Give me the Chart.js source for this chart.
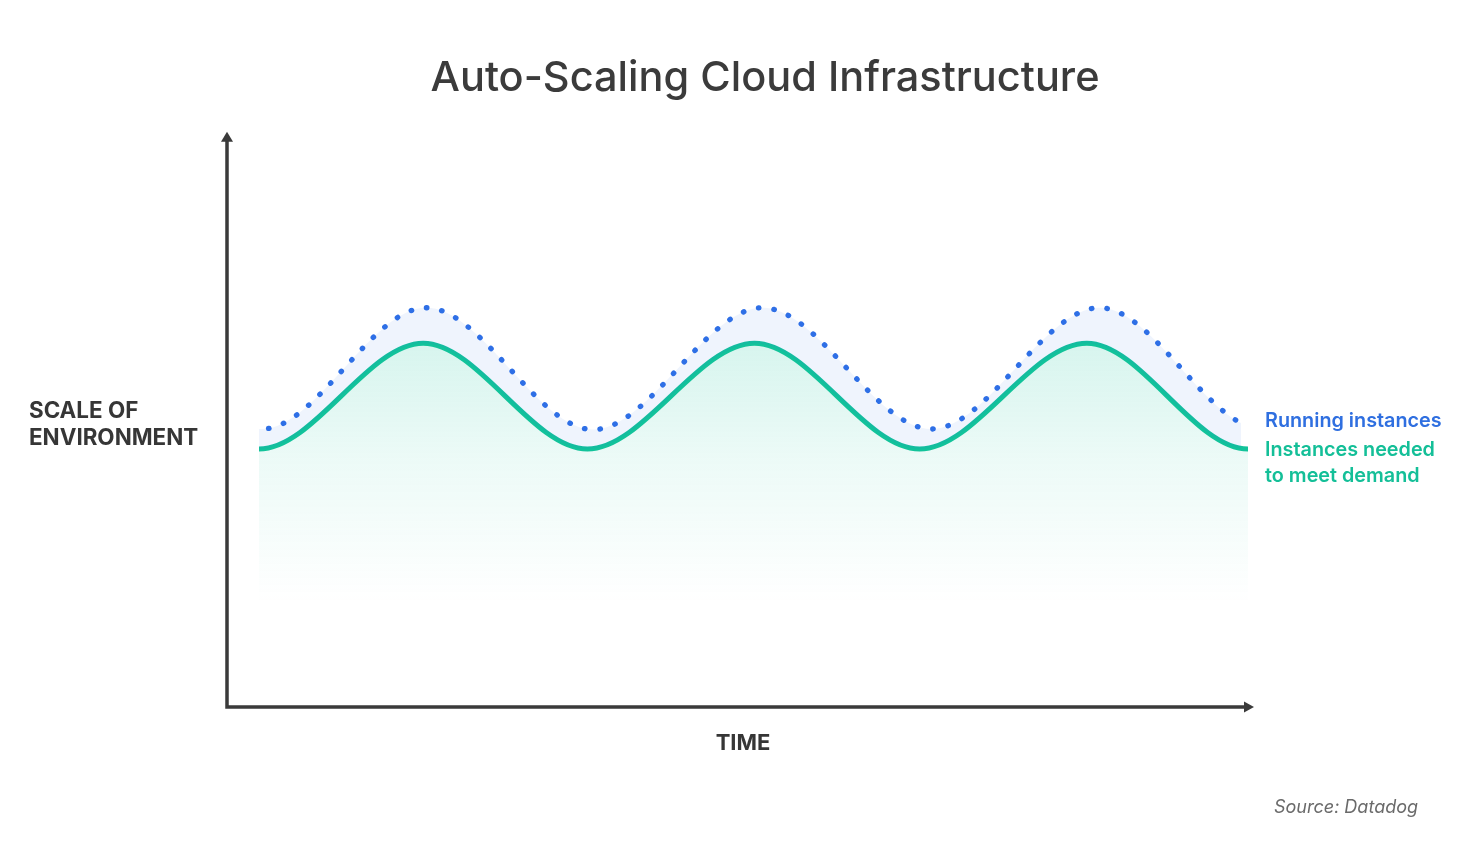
<!DOCTYPE html>
<html><head><meta charset="utf-8">
<script src="https://cdn.jsdelivr.net/npm/chart.js@4.4.1/dist/chart.umd.min.js"></script>
<style>html,body{margin:0;padding:0;background:#fff;}#wrap{width:1464px;height:851px;position:relative;}</style>
</head><body><div id="wrap"><canvas id="c"></canvas></div>
<script>
// ---- texts ----
const chartTitle = 'Auto-Scaling Cloud Infrastructure';
const yAxisLabel = ['SCALE OF', 'ENVIRONMENT'];
const xAxisLabel = 'TIME';
const runningLabel = ['Running instances'];
const neededLabel = ['Instances needed', 'to meet demand'];
const sourceNote = 'Source: Datadog';

// ---- data (time in % of the visible span, scale in % of axis height) ----
const timeRunning = [-16.5, 0.3, 16.9, 33.8, 50.9, 68.0, 85.0, 101.5, 118.4];
const runningInstances = [69.8, 48.6, 69.8, 48.5, 69.8, 48.6, 69.8, 48.6, 69.8];
const timeNeeded = [-16.6, 0, 16.6, 33.2, 50.1, 66.8, 83.7, 100, 116.5];
const neededInstances = [63.6, 45.1, 63.6, 45.1, 63.6, 45.1, 63.6, 45.1, 63.6];
const timeRange = [0, 100];
const scaleRange = [0, 100];

const BLUE = '#2e6fe6', GREEN = '#12c39a', INK = '#3a3a3a';

const decor = {
  id: 'decor',
  afterDraw(chart) {
    const {ctx, chartArea: a} = chart;
    const ax = a.left - 32, ay = a.bottom;
    ctx.save();
    ctx.strokeStyle = INK; ctx.fillStyle = INK;
    ctx.lineWidth = 3.5; ctx.lineCap = 'butt';
    ctx.beginPath();
    ctx.moveTo(ax, ay + 1.75); ctx.lineTo(ax, a.top + 6);
    ctx.moveTo(ax - 1.75, ay); ctx.lineTo(a.right - 3, ay);
    ctx.stroke();
    ctx.beginPath();
    ctx.moveTo(ax, a.top - 3.3); ctx.lineTo(ax - 6, a.top + 6.7); ctx.lineTo(ax + 6, a.top + 6.7);
    ctx.closePath(); ctx.fill();
    const tipX = a.right + 6;
    ctx.beginPath();
    ctx.moveTo(tipX, ay); ctx.lineTo(tipX - 10, ay - 5.5); ctx.lineTo(tipX - 10, ay + 5.5);
    ctx.closePath(); ctx.fill();

    ctx.textBaseline = 'alphabetic';
    // title
    ctx.fillStyle = '#3b3b3b';
    ctx.font = '500 41.5px Inter';
    ctx.textAlign = 'center';
    ctx.fillText(chartTitle, 765, 91);
    // axis titles
    ctx.fillStyle = '#363636';
    ctx.font = 'bold 22.4px Inter';
    ctx.textAlign = 'left';
    ctx.fillText(yAxisLabel[0], 29, 417.5);
    ctx.fillText(yAxisLabel[1], 29, 444.5);
    ctx.font = 'bold 22px Inter';
    ctx.textAlign = 'center';
    ctx.fillText(xAxisLabel, 743, 750);
    // series labels
    ctx.textAlign = 'left';
    ctx.font = '600 19.8px Inter';
    ctx.fillStyle = '#2f6fe0';
    ctx.fillText(runningLabel[0], 1265, 427);
    ctx.fillStyle = '#14bf98';
    ctx.fillText(neededLabel[0], 1265, 455.5);
    ctx.fillText(neededLabel[1], 1265, 482);
    // source
    ctx.font = 'italic 18px Inter';
    ctx.fillStyle = '#6a6a6a';
    ctx.fillText(sourceNote, 1274, 812.5);
    ctx.restore();
  }
};

function greenFill(context) {
  const chart = context.chart;
  const {chartArea, scales} = chart;
  if (!chartArea) return 'rgba(18,195,154,0.1)';
  const top = scales.y.getPixelForValue(Math.max(...neededInstances));
  const g = chart.ctx.createLinearGradient(0, top, 0, top + 260);
  g.addColorStop(0, 'rgba(18,195,154,0.17)');
  g.addColorStop(0.45, 'rgba(18,195,154,0.08)');
  g.addColorStop(1, 'rgba(18,195,154,0)');
  return g;
}

new Chart(document.getElementById('c'), {
  type: 'line',
  data: {
    datasets: [
      {
        label: runningLabel.join(' '),
        data: timeRunning.map((t, i) => ({x: t, y: runningInstances[i]})),
        borderColor: BLUE, borderWidth: 5.3,
        borderDash: [0.5, 15.1], borderDashOffset: 2.5, borderCapStyle: 'round',
        fill: '+1', backgroundColor: 'rgba(46,111,230,0.08)',
        pointRadius: 0, cubicInterpolationMode: 'monotone',
        clip: {left: 0, top: 0, bottom: 0, right: -7}
      },
      {
        label: neededLabel.join(' '),
        data: timeNeeded.map((t, i) => ({x: t, y: neededInstances[i]})),
        borderColor: GREEN, borderWidth: 5, borderCapStyle: 'round',
        fill: 'origin', backgroundColor: greenFill,
        pointRadius: 0, cubicInterpolationMode: 'monotone', clip: 0
      }
    ]
  },
  options: {
    responsive: true, maintainAspectRatio: false, animation: false, events: [],
    layout: {padding: {left: 259, right: 216, top: 135, bottom: 144}},
    elements: {line: {capBezierPoints: false}},
    scales: {
      x: {type: 'linear', display: false, min: timeRange[0], max: timeRange[1]},
      y: {type: 'linear', display: false, min: scaleRange[0], max: scaleRange[1]}
    },
    plugins: {legend: {display: false}, tooltip: {enabled: false}, title: {display: false}}
  },
  plugins: [decor]
});
</script>
</body></html>
